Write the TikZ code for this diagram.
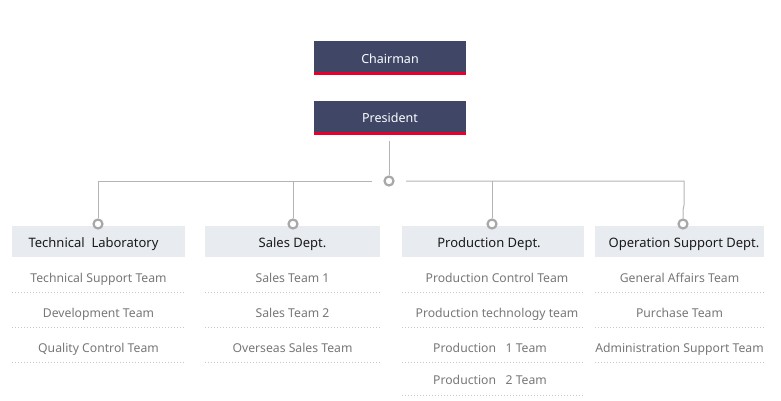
\documentclass[tikz,border=0pt]{standalone}
\usepackage{fontspec}
\setmainfont{Noto Sans}
\definecolor{navy}{HTML}{3F4666}
\definecolor{redline}{HTML}{E8002D}
\definecolor{deptbg}{HTML}{E8ECF0}
\definecolor{conn}{HTML}{B4B4B4}
\definecolor{ring}{HTML}{A8A8A8}
\definecolor{teamtxt}{HTML}{777777}
\definecolor{dotc}{HTML}{C8C8C8}
\begin{document}
\begin{tikzpicture}[x=1pt,y=-1pt,
  topbox/.style={fill=navy,minimum width=152pt,minimum height=31pt,inner sep=0pt},
  toptxt/.style={text=white,anchor=base,inner sep=0pt,font=\fontsize{12.5}{12}\selectfont},
  deptbox/.style={fill=deptbg,minimum height=31pt,inner sep=0pt},
  depttxt/.style={text=black!90,anchor=base,inner sep=0pt,font=\fontsize{13}{13}\selectfont},
  team/.style={text=teamtxt,anchor=base,inner sep=0pt,font=\fontsize{12.2}{12}\selectfont},
  ringc/.style={circle,draw=ring,line width=2.2pt,fill=white,minimum size=9pt,inner sep=0pt},
  connl/.style={draw=conn,line width=1pt},
  redl/.style={draw=redline,line width=2.2pt},
  dotl/.style={draw=dotc,line width=0.8pt,dash pattern=on 1pt off 2pt}]
\useasboundingbox (0,0) rectangle (781,400);
% top
\node[topbox] (ch) at (390,56.5) {};
\node[toptxt] (cht) at (390,63) {Chairman};
\draw[redl] ([yshift=-1.3pt]ch.south west) -- ([yshift=-1.3pt]ch.south east);
\node[topbox] (pr) at (390,116.5) {};
\node[toptxt] (prt) at (390,122) {President};
\draw[redl] ([yshift=-1.3pt]pr.south west) -- ([yshift=-1.3pt]pr.south east);
\node[ringc] (hub) at (389,181) {};
\coordinate (pb) at (389,141);
\draw[connl] (pb) -- (hub.north);
% depts
\node[deptbox,minimum width=173pt] (d1) at (98.5,241.5) {};
\node[deptbox,minimum width=175pt] (d2) at (292.5,241.5) {};
\node[deptbox,minimum width=182pt] (d3) at (493,241.5) {};
\node[deptbox,minimum width=169pt] (d4) at (679.5,241.5) {};
\node[depttxt] (d1t) at (93.5,247) {Technical\ \ Laboratory};
\node[depttxt] (d2t) at (292.5,247) {Sales Dept.};
\node[depttxt] (d3t) at (489,247) {Production Dept.};
\node[depttxt] (d4t) at (684,247) {Operation Support Dept.};
\node[ringc] (r1) at (98,224) {};
\node[ringc] (r2) at (293,224) {};
\node[ringc] (r3) at (492,224) {};
\node[ringc] (r4) at (683,224) {};
\coordinate (hl) at (372,181);
\coordinate (hr) at (406,181);
\draw[connl] (hl) -| (r1.north);
\draw[connl] (293,181) -- (r2.north);
\draw[connl] (hr) -| (684,205) -- (683,210) -- (r4.north);
\draw[connl] (492,181) -- (r3.north);
% teams
\foreach \x/\w/\n/\a/\b/\c/\d in {
  98.5/173/1/Technical Support Team/Development Team/Quality Control Team/,
  292.5/175/2/Sales Team 1/Sales Team 2/Overseas Sales Team/,
  679.5/169/4/General Affairs Team/Purchase Team/Administration Support Team/}{
  \node[team] (t\n a) at (\x,282) {\a};
  \node[team] (t\n b) at (\x,317) {\b};
  \node[team] (t\n c) at (\x,352) {\c};
  \draw[dotl] (\x-\w/2,292) -- (\x+\w/2,292);
  \draw[dotl] (\x-\w/2,327) -- (\x+\w/2,327);
  \draw[dotl] (\x-\w/2,362) -- (\x+\w/2,362);
}
\node[team] (t3a) at (497,282) {Production Control Team};
\node[team] (t3b) at (497,317) {Production technology team};
\node[team] (t3c) at (490,352) {Production\ \ \ 1 Team};
\node[team] (t3d) at (490,384) {Production\ \ \ 2 Team};
\foreach \y in {292,327,362,395}{
  \draw[dotl] (402,\y) -- (584,\y);
}
\end{tikzpicture}
\end{document}
